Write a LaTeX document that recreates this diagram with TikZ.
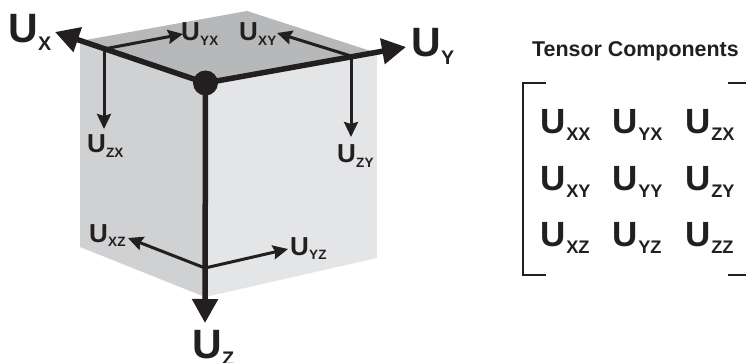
\documentclass[tikz,border=0pt]{standalone}
\usepackage{fontspec}
\setmainfont{Liberation Sans}
\usepackage{tikz}
\usetikzlibrary{calc, positioning, arrows.meta}

\definecolor{inkblack}{HTML}{231F20}
\definecolor{facetop}{HTML}{B7B8BA}
\definecolor{faceleft}{HTML}{D0D1D3}
\definecolor{faceright}{HTML}{E4E5E7}

\newcommand{\Usub}[2][0.55]{U\kern0.01em\raisebox{-0.18em}{\scalebox{#1}{#2}}}

\tikzset{
    axis/.style={line width=5.5pt, color=inkblack, -{Triangle[length=24pt, width=25pt]}},
    shear/.style={line width=3pt, color=inkblack, -{Stealth[length=15pt, width=14pt, inset=2pt]}},
    biglabel/.style={anchor=base west, inner sep=0pt, text=inkblack, font=\fontsize{41}{41}\selectfont\bfseries},
    smalllabel/.style={anchor=base west, inner sep=0pt, text=inkblack, font=\fontsize{26}{26}\selectfont\bfseries},
    celllabel/.style={anchor=base west, inner sep=0pt, text=inkblack, font=\fontsize{35}{35}\selectfont\bfseries},
    bracket/.style={line width=2pt, color=inkblack}
}

\begin{document}
\begin{tikzpicture}[x=1pt, y=-1pt, node distance=24pt]
    \useasboundingbox (0,0) rectangle (746,363);

    % cube faces
    \fill[facetop] (80,41) -- (247,11) -- (377,53) -- (205,83) -- cycle;
    \fill[faceleft] (80,41) -- (205,83) -- (205,297) -- (80,247) -- cycle;
    \fill[faceright] (205,83) -- (377,53) -- (377,258) -- (205,297) -- cycle;

    \coordinate (ux) at (55,32);
    \coordinate (uy) at (406,47);
    \coordinate (uz) at (205,323);
    \coordinate (xfoot) at (104,49);
    \coordinate (yfoot) at (351,56);
    \coordinate (zfoot) at (205,268);
    \coordinate (uyxtip) at (183,34);
    \coordinate (uzxtip) at (104,129);
    \coordinate (uxytip) at (277,33);
    \coordinate (uzytip) at (351,137);
    \coordinate (uxztip) at (128,238);
    \coordinate (uyztip) at (288,249);

    % shear arrows
    \draw[shear] (xfoot) -- (uyxtip);
    \draw[shear] (xfoot) -- (uzxtip);
    \draw[shear] (yfoot) -- (uxytip);
    \draw[shear] (yfoot) -- (uzytip);
    \draw[shear] (zfoot) -- (uxztip);
    \draw[shear] (zfoot) -- (uyztip);

    % main axes
    \node[circle, fill=inkblack, inner sep=0pt, minimum size=25pt] (origin) at (205.5,83) {};
    \draw[axis] (origin.center) -- (ux);
    \draw[axis] (origin.center) -- (uy);
    \draw[axis] (origin.center) -- (uz);

    \node[biglabel] (labelx) at (8,43) {\Usub[0.48]{X}};
    \node[biglabel] (labely) at (411,57) {\Usub[0.48]{Y}};
    \node[biglabel] (labelz) at (192,358) {\Usub[0.48]{Z}};

    \node[smalllabel] (labelyx) at (181,41) {\Usub[0.52]{YX}};
    \node[smalllabel] (labelxy) at (239,41) {\Usub[0.52]{XY}};
    \node[smalllabel] (labelzx) at (87,153) {\Usub[0.52]{ZX}};
    \node[smalllabel] (labelzy) at (337,163) {\Usub[0.52]{ZY}};
    \node[smalllabel] (labelxz) at (89,242) {\Usub[0.52]{XZ}};
    \node[smalllabel] (labelyz) at (290,255) {\Usub[0.52]{YZ}};

    % tensor matrix
    \node[celllabel] (uxx) at (540.5,134) {\Usub[0.52]{XX}};
    \node[celllabel] (uyx) at (612.5,134) {\Usub[0.52]{YX}};
    \node[celllabel] (uzx) at (685.5,134) {\Usub[0.52]{ZX}};
    \node[celllabel] (uxy) at (540.5,191) {\Usub[0.52]{XY}};
    \node[celllabel] (uyy) at (612.5,191) {\Usub[0.52]{YY}};
    \node[celllabel] (uzy) at (685.5,191) {\Usub[0.52]{ZY}};
    \node[celllabel] (uxz) at (540.5,247) {\Usub[0.52]{XZ}};
    \node[celllabel] (uyz) at (612.5,247) {\Usub[0.52]{YZ}};
    \node[celllabel] (uzz) at (685.5,247) {\Usub[0.52]{ZZ}};

    \node[anchor=base west, inner sep=0pt, text=inkblack, font=\fontsize{21.4}{21.4}\selectfont\bfseries] (title) at (532,57) {Tensor Components};

    \draw[bracket] (546,83) -- (523,83) -- (523,275) -- (546,275);
    \draw[bracket] (728,83) -- (746,83);
    \draw[bracket] (728,275) -- (746,275);
\end{tikzpicture}
\end{document}
